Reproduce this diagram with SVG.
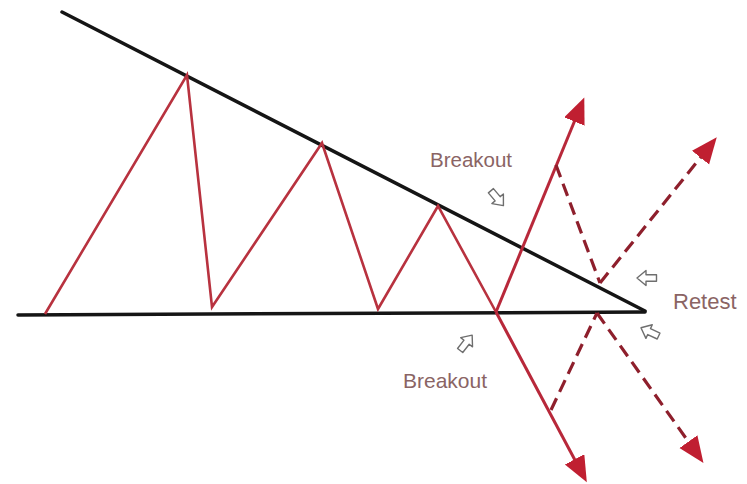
<svg xmlns="http://www.w3.org/2000/svg" width="747" height="484" viewBox="0 0 747 484">
<style>
.bound{stroke:#151515;stroke-width:3.5;fill:none;stroke-linecap:round}
.zig{stroke:#b8323f;stroke-width:2.6;fill:none;stroke-linejoin:miter}
.sol{stroke:#b8283a;stroke-width:3;fill:none}
.dash{stroke:#8e1f2c;stroke-width:3.2;fill:none;stroke-dasharray:13 7}
.lbl{font-family:"Liberation Sans",Arial,sans-serif;fill:#8a6464}
.hollow{fill:#fff;stroke:#6e6e6e;stroke-width:1.4;stroke-linejoin:round}
</style>
<defs>
<marker id="ah" markerUnits="userSpaceOnUse" markerWidth="28" markerHeight="24" refX="20" refY="11" orient="auto">
<path d="M0,0 L26,11 L0,22 Z" fill="#c01f31"/>
</marker>
<path id="ha" d="M-9.5,-3.3 L1,-3.3 L1,-7.5 L10,0 L1,7.5 L1,3.3 L-9.5,3.3 Z"/>
</defs>
<rect width="747" height="484" fill="#fff"/>
<g id="boundaries">
<line class="bound" x1="62" y1="12" x2="645" y2="311"/>
<line class="bound" x1="18" y1="315" x2="645" y2="312"/>
</g>
<g id="zigzag">
<polyline class="zig" points="45,314 187,75 212,307 322,143 378,309 438,206 496,312"/>
</g>
<g id="connectors">
<line class="sol" x1="496" y1="312" x2="582" y2="103" marker-end="url(#ah)"/>
<line class="sol" x1="496" y1="312" x2="584" y2="477" marker-end="url(#ah)"/>
<polyline class="dash" points="556,165 600,283"/>
<line class="dash" x1="600" y1="283" x2="713" y2="142" marker-end="url(#ah)"/>
<polyline class="dash" points="551,410 597,313"/>
<line class="dash" x1="597" y1="313" x2="700" y2="458" marker-end="url(#ah)"/>
</g>
<g id="breakout-top">
<text class="lbl" x="430" y="167" font-size="20.5">Breakout</text>
<use href="#ha" class="hollow" transform="translate(497,198) rotate(50)"/>
</g>
<g id="breakout-bottom">
<text class="lbl" x="403" y="388" font-size="21">Breakout</text>
<use href="#ha" class="hollow" transform="translate(466,343) rotate(-52)"/>
</g>
<g id="retest">
<text class="lbl" x="673" y="309" font-size="22">Retest</text>
<use href="#ha" class="hollow" transform="translate(647,278) rotate(180)"/>
<use href="#ha" class="hollow" transform="translate(650,332) rotate(205)"/>
</g>
</svg>
